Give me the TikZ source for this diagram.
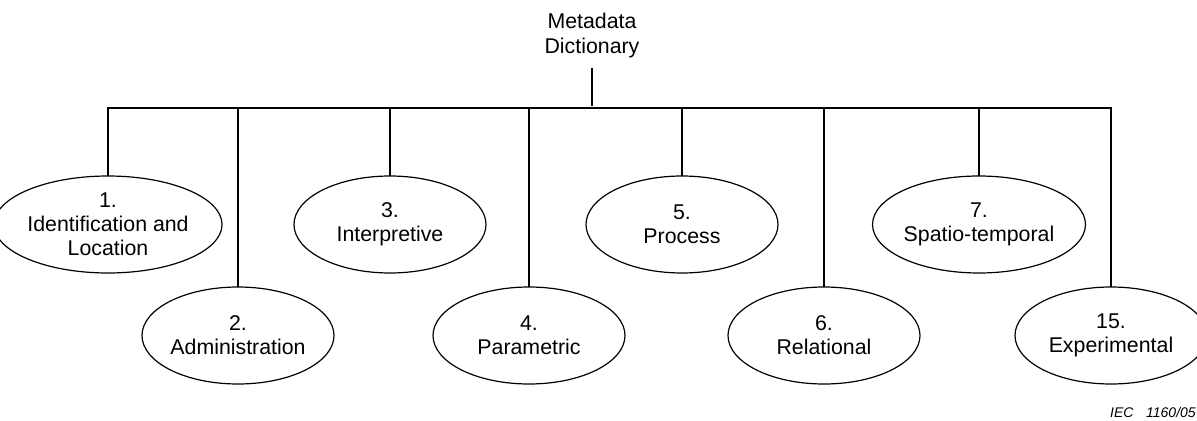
\documentclass[tikz,border=0pt]{standalone}
\usepackage{fontspec}
\setmainfont{Liberation Sans}
\usetikzlibrary{shapes.geometric}

\tikzset{
  catnode/.style={draw, ellipse, line width=0.9pt, minimum width=144pt, minimum height=72.75pt,
    inner sep=0pt, outer sep=0pt, align=center, font=\fontsize{16}{18}\selectfont},
  busline/.style={line width=0.9pt}
}

\begin{document}
\begin{tikzpicture}[x=0.75pt,y=0.75pt,yscale=-1,xscale=1]
\useasboundingbox (0,0) rectangle (1197,421);

% Text Node
\draw (592,13) node [anchor=north][inner sep=0pt][align=center][font=\fontsize{16}{18.75}\selectfont] (meta) {Metadata\\Dictionary};
\coordinate (stem) at (592,68);
\coordinate (bus) at (592,108);

% Ellipses, upper row
\node [catnode] (c1) at (108,224.5) {1.\\Identification and\\Location};
\node [catnode] (c3) at (390,224.5) {3.\\Interpretive};
\node [catnode] (c5) at (682,224.5) {5.\\Process};
\node [catnode] (c7) at (979,224.5) {7.\\Spatio-temporal};
% Ellipses, lower row
\node [catnode] (c2) at (238,335.5) {2.\\Administration};
\node [catnode] (c4) at (529,335.5) {4.\\Parametric};
\node [catnode] (c6) at (824,335.5) {6.\\Relational};
\node [catnode] (c15) at (1111,335.5) {15.\\Experimental};

%Straight Lines
\draw [busline] (stem) -- ([yshift=-1.5pt]stem |- bus);
\draw [busline] (c1.north) |- (c15.north |- bus) -- (c15.north);
\foreach \k in {2,...,7}
  \draw [busline] (c\k.north) -- (c\k.north |- bus);

% Text Node
\draw (1196,417) node [anchor=base east][inner sep=0pt][font=\fontsize{10.5}{12}\selectfont\itshape] (iec) {IEC\hspace{0.9em}1160/05};

\end{tikzpicture}
\end{document}
